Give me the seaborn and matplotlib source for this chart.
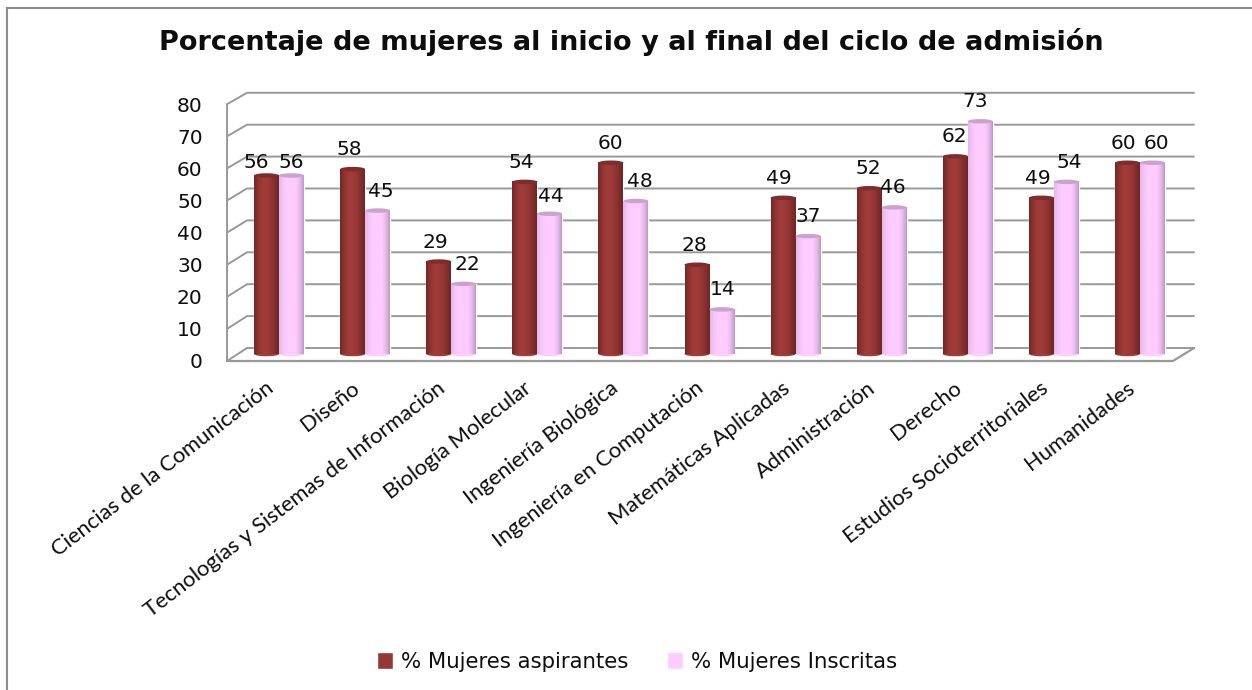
import numpy as np
import pandas as pd
import matplotlib
matplotlib.use('Agg')
import matplotlib.pyplot as plt
import seaborn as sns
from matplotlib.colors import LinearSegmentedColormap
from matplotlib.patches import Ellipse
from matplotlib.transforms import ScaledTranslation

# Chart values
carreras = ['Ciencias de la Comunicación', 'Diseño', 'Tecnologías y Sistemas de Información',
            'Biología Molecular', 'Ingeniería Biológica', 'Ingeniería en Computación',
            'Matemáticas Aplicadas', 'Administración', 'Derecho',
            'Estudios Socioterritoriales', 'Humanidades']
aspirantes = [56, 58, 29, 54, 60, 28, 49, 52, 62, 49, 60]
inscritas = [56, 45, 22, 44, 48, 14, 37, 46, 73, 54, 60]
y_ticks = [0, 10, 20, 30, 40, 50, 60, 70, 80]
title = 'Porcentaje de mujeres al inicio y al final del ciclo de admisión'
name_a = '% Mujeres aspirantes'
name_b = '% Mujeres Inscritas'

W, H = 1252, 690
GRID = '#999999'
RED = '#953735'
PINK = '#ffccff'
INK = '#0d0d0d'

sns.set_theme(style='white')
plt.rcParams['font.family'] = ['DejaVu Sans']

df = pd.DataFrame({'carrera': carreras, name_a: aspirantes, name_b: inscritas})
long_df = df.melt(id_vars='carrera', var_name='serie', value_name='pct')

fig = plt.figure(figsize=(W / 100, H / 100), dpi=100, facecolor='white')

# Backdrop in pixel coordinates: top and left frame lines and the fake 3D walls
bg = fig.add_axes([0, 0, 1, 1], zorder=0)
bg.set_xlim(0, W)
bg.set_ylim(H, 0)
bg.axis('off')
bg.plot([6.5, 6.5, W], [H, 7.5, 7.5], color='#8c8c8c', lw=1.5, solid_joinstyle='miter')
for t in y_ticks:
    front_y = 361 - 3.21 * t
    back_y = 348 - 3.19 * t
    bg.plot([227, 247, 1194], [front_y, back_y, back_y], color=GRID, lw=1.4, solid_joinstyle='miter')
bg.plot([227, 227], [361 - 3.21 * 80, 361], color=GRID, lw=1.4)
bg.plot([227, 1173, 1194], [361, 361, 348], color=GRID, lw=1.6)

# Bars: y=0 sits at pixel 354, y=80 at pixel 99, groups are 86 px apart
ax = fig.add_axes([236 / W, 1 - 354 / H, (1183 - 236) / W, 255 / H], zorder=1)
ax.patch.set_alpha(0)
sns.barplot(data=long_df, x='carrera', y='pct', hue='serie', hue_order=[name_a, name_b],
            palette=[RED, PINK], width=0.58, gap=0, saturation=1, ax=ax, legend=True)
ax.set_xlim(-0.5, 10.5)
ax.set_ylim(0, 80)
ax.set_xlabel('')
ax.set_ylabel('')
sns.despine(ax=ax, left=True, bottom=True)

ax.set_yticks(y_ticks)
ax.tick_params(axis='y', length=0, pad=24, labelsize=14.5)
ax.tick_params(axis='x', length=0, pad=23)
for lab in ax.get_yticklabels():
    lab.set_color(INK)
    lab.set_transform(lab.get_transform() + ScaledTranslation(0, -6 / 100, fig.dpi_scale_trans))
ax.set_xticks(range(len(carreras)))
ax.set_xticklabels(carreras, rotation=37.5, ha='right', va='center', rotation_mode='anchor',
                   family='Lato', fontsize=15.8, color=INK)
for lab in ax.get_xticklabels():
    lab.set_transform(lab.get_transform() + ScaledTranslation(-8 / 100, 0, fig.dpi_scale_trans))

# Cylinder shading on top of the seaborn bars
shades = [
    (['#742827', '#8e3331', '#9f3b39', '#a03c3a', '#953735', '#842f2e', '#702524'], '#7e2d2c'),
    (['#e2b8e8', '#f6c6f8', '#ffccff', '#ffccff', '#ffccff', '#e8bcec', '#bf9ac5'], '#c9a3ce'),
]
cap_h = 4.5 / 3.19
for cont, (stops, cap) in zip(ax.containers, shades):
    cmap = LinearSegmentedColormap.from_list('cyl', stops)
    for bar in cont:
        x0, w, top = bar.get_x(), bar.get_width(), bar.get_height()
        xc = x0 + w / 2
        ax.add_patch(Ellipse((xc, 0), w, cap_h, fc=stops[2], ec='none', clip_on=False, zorder=3))
        ax.imshow(np.linspace(0, 1, 64).reshape(1, -1), cmap=cmap, extent=(x0, x0 + w, 0, top),
                  aspect='auto', interpolation='bilinear', zorder=3.1)
        ax.add_patch(Ellipse((xc, top), w, cap_h, fc=cap, ec='none', clip_on=False, zorder=3.2))
ax.set_xlim(-0.5, 10.5)
ax.set_ylim(0, 80)

# Value labels, nudged by hand the way they are in the original
nudge_x = [[-10, -3, -3, -4, 0, -3, -4, -1, -1, -4, -4],
           [0, 3, 4, 1, 4, 1, 0, -1, -5, 3, 4]]
nudge_y = [[13, 19.5, 19.5, 19.5, 19.5, 19.5, 19.5, 19.5, 19.5, 19.5, 19.5],
           [13, 19.5, 19.5, 17, 19.5, 19.5, 19.5, 19.5, 19.5, 19.5, 19.5]]
for cont, dxs, dys in zip(ax.containers, nudge_x, nudge_y):
    for bar, dx, dy in zip(cont, dxs, dys):
        ax.annotate(f'{bar.get_height():.0f}', (bar.get_x() + bar.get_width() / 2, bar.get_height()),
                    xytext=(dx, dy), textcoords='offset pixels', ha='center', va='center',
                    fontsize=14.5, color=INK, annotation_clip=False, zorder=4)

sns.move_legend(ax, 'center', bbox_to_anchor=(637 / W, 1 - 662 / H), bbox_transform=fig.transFigure,
                ncols=2, frameon=False, title=None, fontsize=15.3, handlelength=0.75, handleheight=0.8,
                handletextpad=0.35, columnspacing=1.85, labelcolor=INK)

fig.text(631 / W, 1 - 42 / H, title, ha='center', va='center', fontsize=19.5, fontweight='bold', color=INK)

fig.savefig('out.png', dpi=100)
